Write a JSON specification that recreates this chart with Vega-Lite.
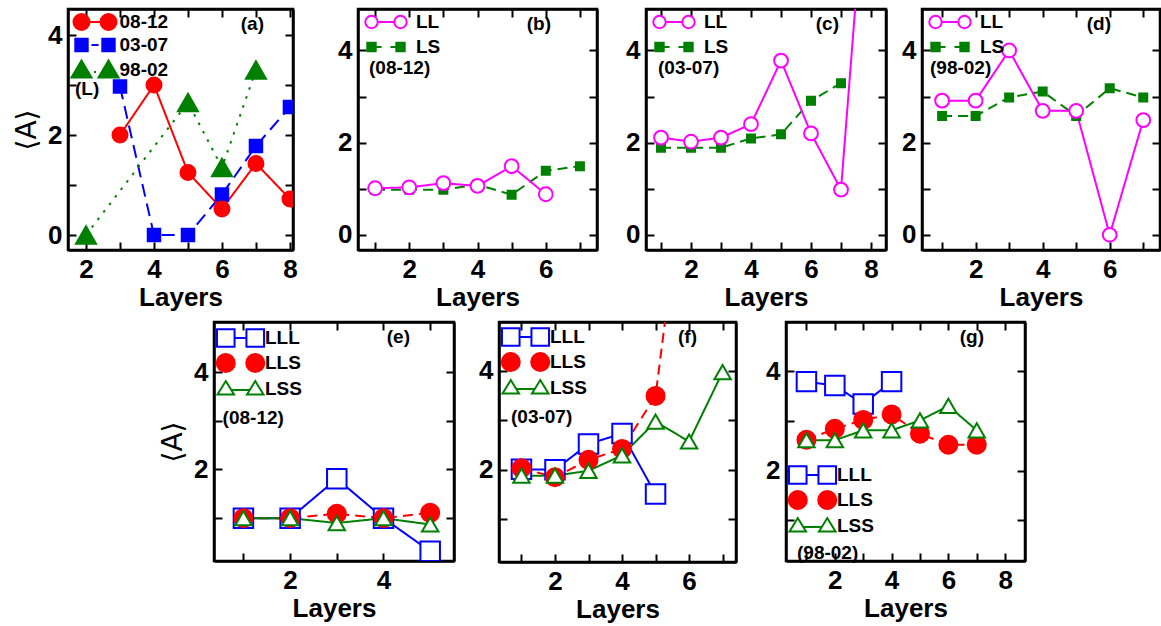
{
"$schema": "https://vega.github.io/schema/vega-lite/v6.json",
"padding": {"left": 12, "top": 6, "right": 0, "bottom": 0},
"background": "white",
"datasets": {
"a": [
{"series":"03-07","layers":3,"A":2.97},{"series":"03-07","layers":4,"A":0},{"series":"03-07","layers":5,"A":0},{"series":"03-07","layers":6,"A":0.81},{"series":"03-07","layers":7,"A":1.78},{"series":"03-07","layers":8,"A":2.56},
{"series":"08-12","layers":3,"A":2.0},{"series":"08-12","layers":4,"A":3.0},{"series":"08-12","layers":5,"A":1.25},{"series":"08-12","layers":6,"A":0.52},{"series":"08-12","layers":7,"A":1.43},{"series":"08-12","layers":8,"A":0.72},
{"series":"98-02","layers":2,"A":0},{"series":"98-02","layers":5,"A":2.65},{"series":"98-02","layers":6,"A":1.35},{"series":"98-02","layers":7,"A":3.3}
],
"b": [
{"series":"LS","layers":1,"A":0.98},{"series":"LS","layers":2,"A":0.98},{"series":"LS","layers":3,"A":0.98},{"series":"LS","layers":4,"A":1.09},{"series":"LS","layers":5,"A":0.87},{"series":"LS","layers":6,"A":1.39},{"series":"LS","layers":7,"A":1.49},
{"series":"LL","layers":1,"A":1.01},{"series":"LL","layers":2,"A":1.03},{"series":"LL","layers":3,"A":1.12},{"series":"LL","layers":4,"A":1.06},{"series":"LL","layers":5,"A":1.49},{"series":"LL","layers":6,"A":0.88}
],
"c": [
{"series":"LS","layers":1,"A":1.89},{"series":"LS","layers":2,"A":1.89},{"series":"LS","layers":3,"A":1.89},{"series":"LS","layers":4,"A":2.09},{"series":"LS","layers":5,"A":2.18},{"series":"LS","layers":6,"A":2.91},{"series":"LS","layers":7,"A":3.29},
{"series":"LL","layers":1,"A":2.11},{"series":"LL","layers":2,"A":2.02},{"series":"LL","layers":3,"A":2.11},{"series":"LL","layers":4,"A":2.4},{"series":"LL","layers":5,"A":3.78},{"series":"LL","layers":6,"A":2.2},{"series":"LL","layers":7,"A":0.98},{"series":"LL","layers":8,"A":9.3}
],
"d": [
{"series":"LS","layers":1,"A":2.58},{"series":"LS","layers":2,"A":2.58},{"series":"LS","layers":3,"A":2.98},{"series":"LS","layers":4,"A":3.11},{"series":"LS","layers":5,"A":2.58},{"series":"LS","layers":6,"A":3.18},{"series":"LS","layers":7,"A":2.98},
{"series":"LL","layers":1,"A":2.91},{"series":"LL","layers":2,"A":2.91},{"series":"LL","layers":3,"A":4.0},{"series":"LL","layers":4,"A":2.69},{"series":"LL","layers":5,"A":2.69},{"series":"LL","layers":6,"A":0},{"series":"LL","layers":7,"A":2.49}
],
"e": [
{"series":"LLL","layers":1,"A":1.0},{"series":"LLL","layers":2,"A":1.0},{"series":"LLL","layers":3,"A":1.81},{"series":"LLL","layers":4,"A":1.0},{"series":"LLL","layers":5,"A":0.32},
{"series":"LLS","layers":1,"A":1.0},{"series":"LLS","layers":2,"A":1.0},{"series":"LLS","layers":3,"A":1.09},{"series":"LLS","layers":4,"A":1.0},{"series":"LLS","layers":5,"A":1.11},
{"series":"LSS","layers":1,"A":1.0},{"series":"LSS","layers":2,"A":1.0},{"series":"LSS","layers":3,"A":0.9},{"series":"LSS","layers":4,"A":1.0},{"series":"LSS","layers":5,"A":0.87}
],
"f": [
{"series":"LLL","layers":1,"A":2.01},{"series":"LLL","layers":2,"A":2.0},{"series":"LLL","layers":3,"A":2.52},{"series":"LLL","layers":4,"A":2.73},{"series":"LLL","layers":5,"A":1.51},
{"series":"LLS","layers":1,"A":2.03},{"series":"LLS","layers":2,"A":1.85},{"series":"LLS","layers":3,"A":2.2},{"series":"LLS","layers":4,"A":2.42},{"series":"LLS","layers":5,"A":3.49},{"series":"LLS","layers":6,"A":8.8},
{"series":"LSS","layers":1,"A":1.88},{"series":"LSS","layers":2,"A":1.88},{"series":"LSS","layers":3,"A":1.98},{"series":"LSS","layers":4,"A":2.29},{"series":"LSS","layers":5,"A":2.97},{"series":"LSS","layers":6,"A":2.57},{"series":"LSS","layers":7,"A":3.97}
],
"g": [
{"series":"LLL","layers":1,"A":3.79},{"series":"LLL","layers":2,"A":3.71},{"series":"LLL","layers":3,"A":3.34},{"series":"LLL","layers":4,"A":3.79},
{"series":"LLS","layers":1,"A":2.62},{"series":"LLS","layers":2,"A":2.84},{"series":"LLS","layers":3,"A":3.02},{"series":"LLS","layers":4,"A":3.13},{"series":"LLS","layers":5,"A":2.74},{"series":"LLS","layers":6,"A":2.52},{"series":"LLS","layers":7,"A":2.52},
{"series":"LSS","layers":1,"A":2.61},{"series":"LSS","layers":2,"A":2.61},{"series":"LSS","layers":3,"A":2.81},{"series":"LSS","layers":4,"A":2.81},{"series":"LSS","layers":5,"A":3.01},{"series":"LSS","layers":6,"A":3.3},{"series":"LSS","layers":7,"A":2.81}
]
},
"config": {
"font": "Liberation Sans",
"view": {"stroke": "black", "strokeWidth": 2.5},
"axis": {"grid": false, "domain": true, "domainColor": "black", "domainWidth": 2.5, "ticks": true, "tickColor": "black", "tickWidth": 2, "tickSize": -8, "labelFont": "Liberation Sans", "labelFontWeight": "bold", "labelFontSize": 26, "labelColor": "black", "labelPadding": 14, "labelFlush": false, "labelOverlap": false, "titleFont": "Liberation Sans", "titleFontWeight": "bold", "titleFontSize": 26, "titleColor": "black", "titlePadding": 2},
"legend": {"orient": "none", "padding": 0, "labelFont": "Liberation Sans", "labelFontWeight": "bold", "labelFontSize": 19, "labelColor": "black", "titleFont": "Liberation Sans", "titleFontWeight": "bold", "titleFontSize": 19, "titleColor": "black", "titleOrient": "bottom", "titleAnchor": "start", "symbolStrokeWidth": 2, "symbolOpacity": 1, "rowPadding": 3},
"title": {"font": "Liberation Sans", "fontWeight": "bold", "fontSize": 19, "color": "black", "anchor": "end", "frame": "group"}
},
"spacing": 7,
"resolve": {"scale": {"stroke": "independent", "fill": "independent", "strokeDash": "independent", "shape": "independent"}, "legend": {"stroke": "independent", "fill": "independent", "strokeDash": "independent", "shape": "independent"}},
"vconcat": [
{"spacing": 37,
"resolve": {"scale": {"stroke": "independent", "fill": "independent", "strokeDash": "independent", "shape": "independent"}, "legend": {"stroke": "independent", "fill": "independent", "strokeDash": "independent", "shape": "independent"}},
"hconcat": [
{
"width": 225, "height": 241,
"data": {"name": "a"},
"title": {"text": "(a)", "dx": -29, "offset": -26},
"resolve": {"axis": {"x": "independent", "y": "independent"}, "scale": {"stroke": "independent", "fill": "independent", "shape": "independent"}},
"layer": [
{"transform": [{"filter": "false"}],
"mark": {"type": "point", "strokeWidth": 2, "opacity": 1},
"encoding": {
"stroke": {"field": "series", "type": "nominal", "scale": {"domain": ["08-12","03-07","98-02"], "range": ["#ff0000","#0000ff","#008000"]},
"legend": {"orient": "none", "title": "(L)", "legendX": 7, "legendY": 2, "symbolSize": 400, "symbolOffset": 9, "labelOffset": 13.5, "titlePadding": -2, "rowPadding": 0}},
"fill": {"field": "series", "type": "nominal", "scale": {"domain": ["08-12","03-07","98-02"], "range": ["#ff0000","#0000ff","#008000"]},
"legend": {"orient": "none", "title": "(L)", "legendX": 7, "legendY": 2, "symbolSize": 400, "symbolOffset": 9, "labelOffset": 13.5, "titlePadding": -2, "rowPadding": 0}},
"shape": {"field": "series", "type": "nominal", "scale": {"domain": ["08-12","03-07","98-02"], "range": [
"M-2.15,0a0.8,0.8 0 1,0 1.6,0a0.8,0.8 0 1,0 -1.6,0Z M0.55,0a0.8,0.8 0 1,0 1.6,0a0.8,0.8 0 1,0 -1.6,0Z M-0.55,0H0.55",
"M-1.97,-0.62h1.24v1.24h-1.24Z M0.73,-0.62h1.24v1.24h-1.24Z M-0.35,0H0.35",
"M-1.35,-0.95L-0.35,0.75L-2.35,0.75Z M1.35,-0.95L2.35,0.75L0.35,0.75Z M-0.1,0.2H0.1"]},
"legend": {"orient": "none", "title": "(L)", "legendX": 7, "legendY": 2, "symbolSize": 400, "symbolOffset": 9, "labelOffset": 13.5, "titlePadding": -2, "rowPadding": 0}}
}},
{"mark": {"type": "line", "strokeWidth": 2, "clip": true},
"encoding": {
"x": {"field": "layers", "type": "quantitative", "scale": {"domain": [1.47, 8.09], "nice": false, "zero": false}, "axis": {"orient": "top", "labels": false, "title": null, "values": [2,3,4,5,6,7,8]}},
"y": {"field": "A", "type": "quantitative", "scale": {"domain": [-0.3, 4.52], "nice": false, "zero": false}, "axis": {"orient": "right", "labels": false, "title": null, "values": [0,1,2,3,4]}},
"stroke": {"field": "series", "type": "nominal", "scale": {"range": ["#0000ff","#ff0000","#008000"]}, "legend": null},
"strokeDash": {"field": "series", "type": "nominal", "scale": {"range": [[13,7],[1,0],[2.5,7]]}, "legend": null}
}},
{"mark": {"type": "point", "strokeWidth": 2, "opacity": 1, "clip": true},
"encoding": {
"x": {"field": "layers", "type": "quantitative", "axis": {"title": "Layers", "values": [2,3,4,5,6,7,8], "labelExpr": "datum.value % 2 === 0 ? datum.label : ''"}},
"y": {"field": "A", "type": "quantitative", "axis": {"title": "⟨A⟩", "values": [0,1,2,3,4], "labelExpr": "datum.value % 2 === 0 ? datum.label : ''", "titleFont": "DejaVu Sans", "titleFontWeight": "normal", "titleFontSize": 28, "titlePadding": 6}},
"stroke": {"field": "series", "type": "nominal", "scale": {"range": ["#0000ff","#ff0000","#008000"]}, "legend": null},
"fill": {"field": "series", "type": "nominal", "scale": {"range": ["#0000ff","#ff0000","#008000"]}, "legend": null},
"shape": {"condition": [{"test": "datum.series === '03-07'", "value": "square"}, {"test": "datum.series === '98-02'", "value": "triangle-up"}], "value": "circle"},
"size": {"condition": [{"test": "datum.series === '03-07'", "value": 156}, {"test": "datum.series === '98-02'", "value": 400}], "value": 225}
}}
]
},
{"spacing": 24,
"resolve": {"scale": {"stroke": "independent", "fill": "independent", "strokeDash": "independent", "shape": "independent"}, "legend": {"stroke": "independent", "fill": "independent", "strokeDash": "independent", "shape": "independent"}},
"hconcat": [
{
"width": 239, "height": 241,
"data": {"name": "b"},
"title": {"text": "(b)", "dx": -46, "offset": -26},
"resolve": {"axis": {"x": "independent", "y": "independent"}, "scale": {"stroke": "independent", "fill": "independent", "shape": "independent"}},
"layer": [
{"transform": [{"filter": "false"}],
"mark": {"type": "point", "strokeWidth": 2, "opacity": 1},
"encoding": {
"stroke": {"field": "series", "type": "nominal", "scale": {"domain": ["LL","LS"], "range": ["#ff00ff","#008000"]},
"legend": {"orient": "none", "title": "(08-12)", "legendX": 11, "legendY": 2, "symbolSize": 400, "symbolOffset": 6, "labelOffset": 19, "titlePadding": 2}},
"fill": {"field": "series", "type": "nominal", "scale": {"domain": ["LL","LS"], "range": ["white","#008000"]},
"legend": {"orient": "none", "title": "(08-12)", "legendX": 11, "legendY": 2, "symbolSize": 400, "symbolOffset": 6, "labelOffset": 19, "titlePadding": 2}},
"shape": {"field": "series", "type": "nominal", "scale": {"domain": ["LL","LS"], "range": [
"M-2.07,0a0.62,0.62 0 1,0 1.24,0a0.62,0.62 0 1,0 -1.24,0Z M0.83,0a0.62,0.62 0 1,0 1.24,0a0.62,0.62 0 1,0 -1.24,0Z M-0.83,0H0.83",
"M-1.87,-0.42h0.84v0.84h-0.84Z M1.03,-0.42h0.84v0.84h-0.84Z M-1.03,0H-0.45 M0.45,0H1.03"]},
"legend": {"orient": "none", "title": "(08-12)", "legendX": 11, "legendY": 2, "symbolSize": 400, "symbolOffset": 6, "labelOffset": 19, "titlePadding": 2}}
}},
{"mark": {"type": "line", "strokeWidth": 2, "clip": true},
"encoding": {
"x": {"field": "layers", "type": "quantitative", "scale": {"domain": [0.5, 7.5], "nice": false, "zero": false}, "axis": {"orient": "top", "labels": false, "title": null, "values": [1,2,3,4,5,6,7]}},
"y": {"field": "A", "type": "quantitative", "scale": {"domain": [-0.33, 4.9], "nice": false, "zero": false}, "axis": {"orient": "right", "labels": false, "title": null, "values": [0,1,2,3,4]}},
"stroke": {"field": "series", "type": "nominal", "scale": {"range": ["#ff00ff","#008000"]}, "legend": null},
"strokeDash": {"field": "series", "type": "nominal", "scale": {"range": [[1,0],[10,6]]}, "legend": null}
}},
{"mark": {"type": "point", "strokeWidth": 2, "opacity": 1, "clip": true},
"encoding": {
"x": {"field": "layers", "type": "quantitative", "axis": {"title": "Layers", "values": [1,2,3,4,5,6,7], "labelExpr": "datum.value % 2 === 0 ? datum.label : ''"}},
"y": {"field": "A", "type": "quantitative", "axis": {"title": null, "values": [0,1,2,3,4], "labelExpr": "datum.value % 2 === 0 ? datum.label : ''"}},
"stroke": {"field": "series", "type": "nominal", "scale": {"range": ["#ff00ff","#008000"]}, "legend": null},
"fill": {"field": "series", "type": "nominal", "scale": {"range": ["white","#008000"]}, "legend": null},
"shape": {"condition": {"test": "datum.series === 'LS'", "value": "square"}, "value": "circle"},
"size": {"condition": {"test": "datum.series === 'LS'", "value": 64}, "value": 190}
}}
]
},
{"spacing": 11,
"resolve": {"scale": {"stroke": "independent", "fill": "independent", "strokeDash": "independent", "shape": "independent"}, "legend": {"stroke": "independent", "fill": "independent", "strokeDash": "independent", "shape": "independent"}},
"hconcat": [
{
"width": 240, "height": 241,
"data": {"name": "c"},
"title": {"text": "(c)", "dx": -47, "offset": -26},
"resolve": {"axis": {"x": "independent", "y": "independent"}, "scale": {"stroke": "independent", "fill": "independent", "shape": "independent"}},
"layer": [
{"transform": [{"filter": "false"}],
"mark": {"type": "point", "strokeWidth": 2, "opacity": 1},
"encoding": {
"stroke": {"field": "series", "type": "nominal", "scale": {"domain": ["LL","LS"], "range": ["#ff00ff","#008000"]},
"legend": {"orient": "none", "title": "(03-07)", "legendX": 12, "legendY": 2, "symbolSize": 400, "symbolOffset": 5, "labelOffset": 19, "titlePadding": 2}},
"fill": {"field": "series", "type": "nominal", "scale": {"domain": ["LL","LS"], "range": ["white","#008000"]},
"legend": {"orient": "none", "title": "(03-07)", "legendX": 12, "legendY": 2, "symbolSize": 400, "symbolOffset": 5, "labelOffset": 19, "titlePadding": 2}},
"shape": {"field": "series", "type": "nominal", "scale": {"domain": ["LL","LS"], "range": [
"M-2.07,0a0.62,0.62 0 1,0 1.24,0a0.62,0.62 0 1,0 -1.24,0Z M0.83,0a0.62,0.62 0 1,0 1.24,0a0.62,0.62 0 1,0 -1.24,0Z M-0.83,0H0.83",
"M-1.87,-0.42h0.84v0.84h-0.84Z M1.03,-0.42h0.84v0.84h-0.84Z M-1.03,0H-0.45 M0.45,0H1.03"]},
"legend": {"orient": "none", "title": "(03-07)", "legendX": 12, "legendY": 2, "symbolSize": 400, "symbolOffset": 5, "labelOffset": 19, "titlePadding": 2}}
}},
{"mark": {"type": "line", "strokeWidth": 2, "clip": true},
"encoding": {
"x": {"field": "layers", "type": "quantitative", "scale": {"domain": [0.5, 8.5], "nice": false, "zero": false}, "axis": {"orient": "top", "labels": false, "title": null, "values": [1,2,3,4,5,6,7,8]}},
"y": {"field": "A", "type": "quantitative", "scale": {"domain": [-0.33, 4.9], "nice": false, "zero": false}, "axis": {"orient": "right", "labels": false, "title": null, "values": [0,1,2,3,4]}},
"stroke": {"field": "series", "type": "nominal", "scale": {"range": ["#ff00ff","#008000"]}, "legend": null},
"strokeDash": {"field": "series", "type": "nominal", "scale": {"range": [[1,0],[10,6]]}, "legend": null}
}},
{"mark": {"type": "point", "strokeWidth": 2, "opacity": 1, "clip": true},
"encoding": {
"x": {"field": "layers", "type": "quantitative", "axis": {"title": "Layers", "values": [1,2,3,4,5,6,7,8], "labelExpr": "datum.value % 2 === 0 ? datum.label : ''"}},
"y": {"field": "A", "type": "quantitative", "axis": {"title": null, "values": [0,1,2,3,4], "labelExpr": "datum.value % 2 === 0 ? datum.label : ''"}},
"stroke": {"field": "series", "type": "nominal", "scale": {"range": ["#ff00ff","#008000"]}, "legend": null},
"fill": {"field": "series", "type": "nominal", "scale": {"range": ["white","#008000"]}, "legend": null},
"shape": {"condition": {"test": "datum.series === 'LS'", "value": "square"}, "value": "circle"},
"size": {"condition": {"test": "datum.series === 'LS'", "value": 64}, "value": 190}
}}
]
},
{
"width": 238, "height": 241,
"data": {"name": "d"},
"title": {"text": "(d)", "dx": -49, "offset": -26},
"resolve": {"axis": {"x": "independent", "y": "independent"}, "scale": {"stroke": "independent", "fill": "independent", "shape": "independent"}},
"layer": [
{"transform": [{"filter": "false"}],
"mark": {"type": "point", "strokeWidth": 2, "opacity": 1},
"encoding": {
"stroke": {"field": "series", "type": "nominal", "scale": {"domain": ["LL","LS"], "range": ["#ff00ff","#008000"]},
"legend": {"orient": "none", "title": "(98-02)", "legendX": 8, "legendY": 2, "symbolSize": 400, "symbolOffset": 9, "labelOffset": 19, "titlePadding": 2}},
"fill": {"field": "series", "type": "nominal", "scale": {"domain": ["LL","LS"], "range": ["white","#008000"]},
"legend": {"orient": "none", "title": "(98-02)", "legendX": 8, "legendY": 2, "symbolSize": 400, "symbolOffset": 9, "labelOffset": 19, "titlePadding": 2}},
"shape": {"field": "series", "type": "nominal", "scale": {"domain": ["LL","LS"], "range": [
"M-2.07,0a0.62,0.62 0 1,0 1.24,0a0.62,0.62 0 1,0 -1.24,0Z M0.83,0a0.62,0.62 0 1,0 1.24,0a0.62,0.62 0 1,0 -1.24,0Z M-0.83,0H0.83",
"M-1.87,-0.42h0.84v0.84h-0.84Z M1.03,-0.42h0.84v0.84h-0.84Z M-1.03,0H-0.45 M0.45,0H1.03"]},
"legend": {"orient": "none", "title": "(98-02)", "legendX": 8, "legendY": 2, "symbolSize": 400, "symbolOffset": 9, "labelOffset": 19, "titlePadding": 2}}
}},
{"mark": {"type": "line", "strokeWidth": 2, "clip": true},
"encoding": {
"x": {"field": "layers", "type": "quantitative", "scale": {"domain": [0.4, 7.5], "nice": false, "zero": false}, "axis": {"orient": "top", "labels": false, "title": null, "values": [1,2,3,4,5,6,7]}},
"y": {"field": "A", "type": "quantitative", "scale": {"domain": [-0.33, 4.9], "nice": false, "zero": false}, "axis": {"orient": "right", "labels": false, "title": null, "values": [0,1,2,3,4]}},
"stroke": {"field": "series", "type": "nominal", "scale": {"range": ["#ff00ff","#008000"]}, "legend": null},
"strokeDash": {"field": "series", "type": "nominal", "scale": {"range": [[1,0],[10,6]]}, "legend": null}
}},
{"mark": {"type": "point", "strokeWidth": 2, "opacity": 1, "clip": true},
"encoding": {
"x": {"field": "layers", "type": "quantitative", "axis": {"title": "Layers", "values": [1,2,3,4,5,6,7], "labelExpr": "datum.value % 2 === 0 ? datum.label : ''"}},
"y": {"field": "A", "type": "quantitative", "axis": {"title": null, "values": [0,1,2,3,4], "labelExpr": "datum.value % 2 === 0 ? datum.label : ''"}},
"stroke": {"field": "series", "type": "nominal", "scale": {"range": ["#ff00ff","#008000"]}, "legend": null},
"fill": {"field": "series", "type": "nominal", "scale": {"range": ["white","#008000"]}, "legend": null},
"shape": {"condition": {"test": "datum.series === 'LS'", "value": "square"}, "value": "circle"},
"size": {"condition": {"test": "datum.series === 'LS'", "value": 64}, "value": 190}
}}
]
}
]}
]}
]},
{"spacing": 0,
"resolve": {"scale": {"stroke": "independent", "fill": "independent", "strokeDash": "independent", "shape": "independent"}, "legend": {"stroke": "independent", "fill": "independent", "strokeDash": "independent", "shape": "independent"}},
"hconcat": [
{"width": 90, "height": 10, "data": {"values": []}, "mark": "point", "encoding": {}, "view": {"stroke": null}},
{"spacing": 20,
"resolve": {"scale": {"stroke": "independent", "fill": "independent", "strokeDash": "independent", "shape": "independent"}, "legend": {"stroke": "independent", "fill": "independent", "strokeDash": "independent", "shape": "independent"}},
"hconcat": [
{
"width": 240, "height": 239,
"data": {"name": "e"},
"title": {"text": "(e)", "dx": -44, "offset": -26},
"resolve": {"axis": {"x": "independent", "y": "independent"}, "scale": {"stroke": "independent", "fill": "independent", "shape": "independent"}},
"layer": [
{"transform": [{"filter": "false"}],
"mark": {"type": "point", "strokeWidth": 2, "opacity": 1},
"encoding": {
"stroke": {"field": "series", "type": "nominal", "scale": {"domain": ["LLL","LLS","LSS"], "range": ["#0000ff","#ff0000","#008000"]},
"legend": {"orient": "none", "title": "(08-12)", "legendX": 8.6, "legendY": 4, "symbolSize": 484, "symbolOffset": 5.9, "labelOffset": 12.5, "titlePadding": 10, "rowPadding": -4}},
"fill": {"field": "series", "type": "nominal", "scale": {"domain": ["LLL","LLS","LSS"], "range": ["white","#ff0000","white"]},
"legend": {"orient": "none", "title": "(08-12)", "legendX": 8.6, "legendY": 4, "symbolSize": 484, "symbolOffset": 5.9, "labelOffset": 12.5, "titlePadding": 10, "rowPadding": -4}},
"shape": {"field": "series", "type": "nominal", "scale": {"domain": ["LLL","LLS","LSS"], "range": [
"M-2.14,-0.8h1.6v1.6h-1.6Z M0.54,-0.8h1.6v1.6h-1.6Z M-0.54,0H0.54",
"M-2.16,0a0.82,0.82 0 1,0 1.64,0a0.82,0.82 0 1,0 -1.64,0Z M0.52,0a0.82,0.82 0 1,0 1.64,0a0.82,0.82 0 1,0 -1.64,0Z",
"M-1.34,-0.72L-0.59,0.5L-2.09,0.5Z M1.34,-0.72L2.09,0.5L0.59,0.5Z M-0.84,0.1H0.84"]},
"legend": {"orient": "none", "title": "(08-12)", "legendX": 8.6, "legendY": 4, "symbolSize": 484, "symbolOffset": 5.9, "labelOffset": 12.5, "titlePadding": 10, "rowPadding": -4}}
}},
{"mark": {"type": "line", "strokeWidth": 2, "clip": true},
"encoding": {
"x": {"field": "layers", "type": "quantitative", "scale": {"domain": [0.37, 5.51], "nice": false, "zero": false}, "axis": {"orient": "top", "labels": false, "title": null, "values": [1,2,3,4,5]}},
"y": {"field": "A", "type": "quantitative", "scale": {"domain": [0.12, 5.03], "nice": false, "zero": false}, "axis": {"orient": "right", "labels": false, "title": null, "values": [1,2,3,4]}},
"stroke": {"field": "series", "type": "nominal", "scale": {"range": ["#0000ff","#ff0000","#008000"]}, "legend": null},
"strokeDash": {"field": "series", "type": "nominal", "scale": {"range": [[1,0],[10,6],[1,0]]}, "legend": null}
}},
{"mark": {"type": "point", "strokeWidth": 2, "opacity": 1, "clip": true},
"encoding": {
"x": {"field": "layers", "type": "quantitative", "axis": {"title": "Layers", "values": [1,2,3,4,5], "labelExpr": "datum.value % 2 === 0 ? datum.label : ''"}},
"y": {"field": "A", "type": "quantitative", "axis": {"title": "⟨A⟩", "values": [1,2,3,4], "labelExpr": "datum.value % 2 === 0 ? datum.label : ''", "titleFont": "DejaVu Sans", "titleFontWeight": "normal", "titleFontSize": 28, "titlePadding": 6}},
"stroke": {"field": "series", "type": "nominal", "scale": {"range": ["#0000ff","#ff0000","#008000"]}, "legend": null},
"fill": {"field": "series", "type": "nominal", "scale": {"range": ["white","#ff0000","white"]}, "legend": null},
"shape": {"condition": [{"test": "datum.series === 'LLL'", "value": "square"}, {"test": "datum.series === 'LSS'", "value": "triangle-up"}], "value": "circle"},
"size": {"condition": [{"test": "datum.series === 'LLL'", "value": 380}, {"test": "datum.series === 'LSS'", "value": 270}], "value": 324}
}}
]
},
{"spacing": 25,
"resolve": {"scale": {"stroke": "independent", "fill": "independent", "strokeDash": "independent", "shape": "independent"}, "legend": {"stroke": "independent", "fill": "independent", "strokeDash": "independent", "shape": "independent"}},
"hconcat": [
{
"width": 237, "height": 240,
"data": {"name": "f"},
"title": {"text": "(f)", "dx": -39, "offset": -26},
"resolve": {"axis": {"x": "independent", "y": "independent"}, "scale": {"stroke": "independent", "fill": "independent", "shape": "independent"}},
"layer": [
{"transform": [{"filter": "false"}],
"mark": {"type": "point", "strokeWidth": 2, "opacity": 1},
"encoding": {
"stroke": {"field": "series", "type": "nominal", "scale": {"domain": ["LLL","LLS","LSS"], "range": ["#0000ff","#ff0000","#008000"]},
"legend": {"orient": "none", "title": "(03-07)", "legendX": 12, "legendY": 3, "symbolSize": 484, "symbolOffset": 2.5, "labelOffset": 12.5, "titlePadding": 10, "rowPadding": -4}},
"fill": {"field": "series", "type": "nominal", "scale": {"domain": ["LLL","LLS","LSS"], "range": ["white","#ff0000","white"]},
"legend": {"orient": "none", "title": "(03-07)", "legendX": 12, "legendY": 3, "symbolSize": 484, "symbolOffset": 2.5, "labelOffset": 12.5, "titlePadding": 10, "rowPadding": -4}},
"shape": {"field": "series", "type": "nominal", "scale": {"domain": ["LLL","LLS","LSS"], "range": [
"M-2.14,-0.8h1.6v1.6h-1.6Z M0.54,-0.8h1.6v1.6h-1.6Z M-0.54,0H0.54",
"M-2.16,0a0.82,0.82 0 1,0 1.64,0a0.82,0.82 0 1,0 -1.64,0Z M0.52,0a0.82,0.82 0 1,0 1.64,0a0.82,0.82 0 1,0 -1.64,0Z",
"M-1.34,-0.72L-0.59,0.5L-2.09,0.5Z M1.34,-0.72L2.09,0.5L0.59,0.5Z M-0.84,0.1H0.84"]},
"legend": {"orient": "none", "title": "(03-07)", "legendX": 12, "legendY": 3, "symbolSize": 484, "symbolOffset": 2.5, "labelOffset": 12.5, "titlePadding": 10, "rowPadding": -4}}
}},
{"mark": {"type": "line", "strokeWidth": 2, "clip": true},
"encoding": {
"x": {"field": "layers", "type": "quantitative", "scale": {"domain": [0.33, 7.4], "nice": false, "zero": false}, "axis": {"orient": "top", "labels": false, "title": null, "values": [1,2,3,4,5,6,7]}},
"y": {"field": "A", "type": "quantitative", "scale": {"domain": [0.14, 4.98], "nice": false, "zero": false}, "axis": {"orient": "right", "labels": false, "title": null, "values": [1,2,3,4]}},
"stroke": {"field": "series", "type": "nominal", "scale": {"range": ["#0000ff","#ff0000","#008000"]}, "legend": null},
"strokeDash": {"field": "series", "type": "nominal", "scale": {"range": [[1,0],[10,6],[1,0]]}, "legend": null}
}},
{"mark": {"type": "point", "strokeWidth": 2, "opacity": 1, "clip": true},
"encoding": {
"x": {"field": "layers", "type": "quantitative", "axis": {"title": "Layers", "values": [1,2,3,4,5,6,7], "labelExpr": "datum.value % 2 === 0 ? datum.label : ''"}},
"y": {"field": "A", "type": "quantitative", "axis": {"title": null, "values": [1,2,3,4], "labelExpr": "datum.value % 2 === 0 ? datum.label : ''"}},
"stroke": {"field": "series", "type": "nominal", "scale": {"range": ["#0000ff","#ff0000","#008000"]}, "legend": null},
"fill": {"field": "series", "type": "nominal", "scale": {"range": ["white","#ff0000","white"]}, "legend": null},
"shape": {"condition": [{"test": "datum.series === 'LLL'", "value": "square"}, {"test": "datum.series === 'LSS'", "value": "triangle-up"}], "value": "circle"},
"size": {"condition": [{"test": "datum.series === 'LLL'", "value": 380}, {"test": "datum.series === 'LSS'", "value": 270}], "value": 324}
}}
]
},
{
"width": 239, "height": 239,
"data": {"name": "g"},
"title": {"text": "(g)", "dx": -41, "offset": -26},
"resolve": {"axis": {"x": "independent", "y": "independent"}, "scale": {"stroke": "independent", "fill": "independent", "shape": "independent"}},
"layer": [
{"transform": [{"filter": "false"}],
"mark": {"type": "point", "strokeWidth": 2, "opacity": 1},
"encoding": {
"stroke": {"field": "series", "type": "nominal", "scale": {"domain": ["LLL","LLS","LSS"], "range": ["#0000ff","#ff0000","#008000"]},
"legend": {"orient": "none", "title": "(98-02)", "legendX": 11, "legendY": 141, "symbolSize": 484, "symbolOffset": 3.5, "labelOffset": 12.5, "titlePadding": 8, "rowPadding": -4}},
"fill": {"field": "series", "type": "nominal", "scale": {"domain": ["LLL","LLS","LSS"], "range": ["white","#ff0000","white"]},
"legend": {"orient": "none", "title": "(98-02)", "legendX": 11, "legendY": 141, "symbolSize": 484, "symbolOffset": 3.5, "labelOffset": 12.5, "titlePadding": 8, "rowPadding": -4}},
"shape": {"field": "series", "type": "nominal", "scale": {"domain": ["LLL","LLS","LSS"], "range": [
"M-2.14,-0.8h1.6v1.6h-1.6Z M0.54,-0.8h1.6v1.6h-1.6Z M-0.54,0H0.54",
"M-2.16,0a0.82,0.82 0 1,0 1.64,0a0.82,0.82 0 1,0 -1.64,0Z M0.52,0a0.82,0.82 0 1,0 1.64,0a0.82,0.82 0 1,0 -1.64,0Z",
"M-1.34,-0.72L-0.59,0.5L-2.09,0.5Z M1.34,-0.72L2.09,0.5L0.59,0.5Z M-0.84,0.1H0.84"]},
"legend": {"orient": "none", "title": "(98-02)", "legendX": 11, "legendY": 141, "symbolSize": 484, "symbolOffset": 3.5, "labelOffset": 12.5, "titlePadding": 8, "rowPadding": -4}}
}},
{"mark": {"type": "line", "strokeWidth": 2, "clip": true},
"encoding": {
"x": {"field": "layers", "type": "quantitative", "scale": {"domain": [0.28, 8.7], "nice": false, "zero": false}, "axis": {"orient": "top", "labels": false, "title": null, "values": [1,2,3,4,5,6,7,8]}},
"y": {"field": "A", "type": "quantitative", "scale": {"domain": [0.18, 4.99], "nice": false, "zero": false}, "axis": {"orient": "right", "labels": false, "title": null, "values": [1,2,3,4]}},
"stroke": {"field": "series", "type": "nominal", "scale": {"range": ["#0000ff","#ff0000","#008000"]}, "legend": null},
"strokeDash": {"field": "series", "type": "nominal", "scale": {"range": [[1,0],[10,6],[1,0]]}, "legend": null}
}},
{"mark": {"type": "point", "strokeWidth": 2, "opacity": 1, "clip": true},
"encoding": {
"x": {"field": "layers", "type": "quantitative", "axis": {"title": "Layers", "values": [1,2,3,4,5,6,7,8], "labelExpr": "datum.value % 2 === 0 ? datum.label : ''"}},
"y": {"field": "A", "type": "quantitative", "axis": {"title": null, "values": [1,2,3,4], "labelExpr": "datum.value % 2 === 0 ? datum.label : ''"}},
"stroke": {"field": "series", "type": "nominal", "scale": {"range": ["#0000ff","#ff0000","#008000"]}, "legend": null},
"fill": {"field": "series", "type": "nominal", "scale": {"range": ["white","#ff0000","white"]}, "legend": null},
"shape": {"condition": [{"test": "datum.series === 'LLL'", "value": "square"}, {"test": "datum.series === 'LSS'", "value": "triangle-up"}], "value": "circle"},
"size": {"condition": [{"test": "datum.series === 'LLL'", "value": 380}, {"test": "datum.series === 'LSS'", "value": 270}], "value": 324}
}}
]
}
]}
]}
]}
]
}
